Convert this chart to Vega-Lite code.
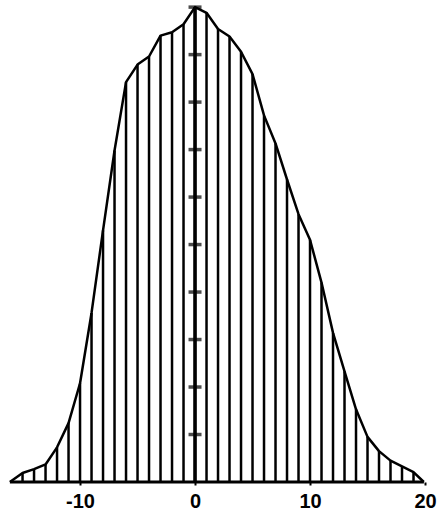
{
  "$schema": "https://vega.github.io/schema/vega-lite/v6.json",
  "width": 438,
  "height": 482,
  "autosize": {"type": "none"},
  "padding": {"left": 0, "top": 0, "right": 0, "bottom": 43},
  "background": "white",
  "config": {"view": {"stroke": null}},
  "datasets": {
    "density": [
      {"x": -16.1, "y": 0},
      {"x": -15, "y": 0.19},
      {"x": -14, "y": 0.27},
      {"x": -13, "y": 0.37},
      {"x": -12, "y": 0.73},
      {"x": -11, "y": 1.24},
      {"x": -10, "y": 2.08},
      {"x": -9, "y": 3.56},
      {"x": -8, "y": 5.3},
      {"x": -7, "y": 6.98},
      {"x": -6, "y": 8.42},
      {"x": -5, "y": 8.79},
      {"x": -4, "y": 8.96},
      {"x": -3, "y": 9.4},
      {"x": -2, "y": 9.47},
      {"x": -1, "y": 9.64},
      {"x": 0, "y": 10.0},
      {"x": 1, "y": 9.88},
      {"x": 2, "y": 9.54},
      {"x": 3, "y": 9.38},
      {"x": 4, "y": 9.06},
      {"x": 5, "y": 8.59},
      {"x": 6, "y": 7.72},
      {"x": 7, "y": 7.13},
      {"x": 8, "y": 6.37},
      {"x": 9, "y": 5.64},
      {"x": 10, "y": 5.1},
      {"x": 11, "y": 4.2},
      {"x": 12, "y": 3.14},
      {"x": 13, "y": 2.33},
      {"x": 14, "y": 1.53},
      {"x": 15, "y": 0.95},
      {"x": 16, "y": 0.65},
      {"x": 17, "y": 0.45},
      {"x": 18, "y": 0.33},
      {"x": 19, "y": 0.21},
      {"x": 19.9, "y": 0}
    ],
    "yticks": [
      {"x": 0, "y": 1}, {"x": 0, "y": 2}, {"x": 0, "y": 3}, {"x": 0, "y": 4},
      {"x": 0, "y": 5}, {"x": 0, "y": 6}, {"x": 0, "y": 7}, {"x": 0, "y": 8},
      {"x": 0, "y": 9}, {"x": 0, "y": 10}
    ]
  },
  "layer": [
    {
      "data": {"name": "density"},
      "transform": [{"filter": "datum.x == floor(datum.x)"}],
      "mark": {"type": "rule", "color": "black", "strokeWidth": 2.5},
      "encoding": {
        "x": {
          "field": "x",
          "type": "quantitative",
          "title": null,
          "scale": {"domain": [-16.96, 21.13], "nice": false, "zero": false},
          "axis": {
            "values": [-10, 0, 10, 20],
            "title": null,
            "domain": false,
            "grid": false,
            "tickSize": 3,
            "tickWidth": 2,
            "tickColor": "black",
            "labelFont": "Liberation Sans",
            "labelFontWeight": "bold",
            "labelFontSize": 20,
            "labelColor": "black",
            "labelPadding": 6,
            "labelFlush": false,
            "labelExpr": "replace(datum.label, '\u2212', '-')"
          }
        },
        "y": {
          "field": "y",
          "type": "quantitative",
          "scale": {"domain": [0, 10.15], "nice": false, "zero": true},
          "axis": null
        },
        "y2": {"datum": 0}
      }
    },
    {
      "data": {"name": "density"},
      "mark": {"type": "line", "color": "black", "strokeWidth": 2.5, "strokeJoin": "round"},
      "encoding": {
        "x": {"field": "x", "type": "quantitative", "title": null},
        "y": {"field": "y", "type": "quantitative", "axis": null}
      }
    },
    {
      "data": {"name": "density"},
      "transform": [{"filter": "datum.y == 0"}],
      "mark": {"type": "line", "color": "black", "strokeWidth": 3},
      "encoding": {
        "x": {"field": "x", "type": "quantitative", "title": null},
        "y": {"field": "y", "type": "quantitative", "axis": null}
      }
    },
    {
      "data": {"name": "density"},
      "transform": [{"filter": "datum.x == 0"}],
      "mark": {"type": "rule", "color": "black", "strokeWidth": 3.5},
      "encoding": {
        "x": {"field": "x", "type": "quantitative", "title": null},
        "y": {"field": "y", "type": "quantitative", "axis": null},
        "y2": {"datum": 0}
      }
    },
    {
      "data": {"name": "yticks"},
      "mark": {"type": "tick", "orient": "horizontal", "color": "black", "size": 13, "thickness": 3.5},
      "encoding": {
        "x": {"field": "x", "type": "quantitative", "title": null},
        "y": {"field": "y", "type": "quantitative", "axis": null}
      }
    }
  ]
}
